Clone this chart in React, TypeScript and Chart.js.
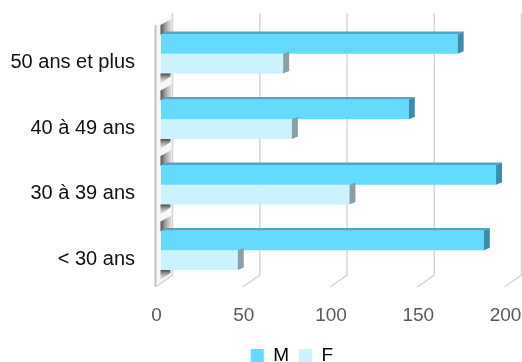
import React, { useEffect, useRef } from 'react';
import { Chart, registerables } from 'chart.js';

Chart.register(...registerables);

const categories = ['50 ans et plus', '40 à 49 ans', '30 à 39 ans', '< 30 ans'];
const seriesM = [170, 142, 192, 185];
const seriesF = [70, 75, 108, 44];
const xTicks = [0, 50, 100, 150, 200];
const seriesNames = ['M', 'F'];

const FONT = "'Liberation Sans', Arial, sans-serif";

const DX = 6;
const DY = -2.5;
const BACK = 11.5;
const FRONT = -5.5;
const LEGEND_SHIFT = 37;

const bar3d = {
  id: 'bar3d',
  afterLayout(chart: any) {
    const lg = chart.legend;
    if (lg) {
      lg.left += LEGEND_SHIFT;
      lg.right += LEGEND_SHIFT;
    }
  },
  beforeDatasetsDraw(chart: any) {
    const { ctx, chartArea, scales } = chart;
    const xs = scales.x;
    const backTop = chartArea.top - 8;
    const backBottom = chartArea.bottom - 8;
    const frontBottom = chartArea.bottom + 4;
    const frontTop = chartArea.top + 4;
    ctx.save();
    const x0f = xs.getPixelForValue(0) + FRONT;
    const x0b = xs.getPixelForValue(0) + BACK;
    ctx.fillStyle = '#f7f7f7';
    ctx.beginPath();
    ctx.moveTo(x0f, frontTop);
    ctx.lineTo(x0b, backTop);
    ctx.lineTo(x0b, backBottom);
    ctx.lineTo(x0f, frontBottom);
    ctx.closePath();
    ctx.fill();
    ctx.strokeStyle = '#c4c4c4';
    ctx.lineWidth = 2;
    ctx.beginPath();
    ctx.moveTo(x0f, frontTop);
    ctx.lineTo(x0f, frontBottom);
    ctx.stroke();
    ctx.strokeStyle = '#d6d6d6';
    ctx.lineWidth = 1.5;
    xTicks.forEach((v) => {
      const xb = xs.getPixelForValue(v) + BACK;
      const xf = xs.getPixelForValue(v) + FRONT;
      ctx.beginPath();
      ctx.moveTo(xb, backTop);
      ctx.lineTo(xb, backBottom);
      ctx.lineTo(xf, frontBottom);
      ctx.stroke();
    });
    const metaM = chart.getDatasetMeta(0);
    const metaF = chart.getDatasetMeta(1);
    metaM.data.forEach((el: any, i: number) => {
      const mTop = el.y - el.height / 2;
      const fEl = metaF.data[i];
      const fBottom = fEl.y + fEl.height / 2;
      const g1 = ctx.createLinearGradient(x0f + 4, 0, x0b, 0);
      g1.addColorStop(0, 'rgba(40,40,40,0.9)');
      g1.addColorStop(1, 'rgba(150,150,150,0.15)');
      ctx.fillStyle = g1;
      ctx.beginPath();
      ctx.moveTo(x0f + 5, mTop + 1);
      ctx.lineTo(x0f + 5, mTop - 9);
      ctx.lineTo(x0b - 1, mTop - 15);
      ctx.lineTo(x0b - 1, mTop - 2);
      ctx.closePath();
      ctx.fill();
      const g2 = ctx.createLinearGradient(0, fBottom, 0, fBottom + 10);
      g2.addColorStop(0, 'rgba(40,40,40,0.85)');
      g2.addColorStop(1, 'rgba(150,150,150,0.1)');
      ctx.fillStyle = g2;
      ctx.beginPath();
      ctx.moveTo(x0f + 5, fBottom);
      ctx.lineTo(x0f + 5, fBottom + 10);
      ctx.lineTo(x0b - 2, fBottom + 3);
      ctx.lineTo(x0b - 2, fBottom - 4);
      ctx.closePath();
      ctx.fill();
    });
    ctx.restore();
  },
  afterDatasetsDraw(chart: any) {
    const { ctx } = chart;
    ctx.save();
    const metaF = chart.getDatasetMeta(1);
    metaF.data.forEach((el: any) => {
      const top = el.y - el.height / 2;
      const bottom = el.y + el.height / 2;
      ctx.fillStyle = '#8aa0a9';
      ctx.beginPath();
      ctx.moveTo(el.x, top);
      ctx.lineTo(el.x + DX, top + DY);
      ctx.lineTo(el.x + DX, bottom + DY);
      ctx.lineTo(el.x, bottom);
      ctx.closePath();
      ctx.fill();
    });
    const metaM = chart.getDatasetMeta(0);
    metaM.data.forEach((el: any) => {
      const top = el.y - el.height / 2;
      const bottom = el.y + el.height / 2;
      ctx.fillStyle = '#4ea6c7';
      ctx.beginPath();
      ctx.moveTo(el.base, top);
      ctx.lineTo(el.x, top);
      ctx.lineTo(el.x + DX, top + DY);
      ctx.lineTo(el.base + DX, top + DY);
      ctx.closePath();
      ctx.fill();
      ctx.fillStyle = '#3d8cab';
      ctx.beginPath();
      ctx.moveTo(el.x, top);
      ctx.lineTo(el.x + DX, top + DY);
      ctx.lineTo(el.x + DX, bottom + DY);
      ctx.lineTo(el.x, bottom);
      ctx.closePath();
      ctx.fill();
    });
    ctx.restore();
  },
};

export default function App() {
  const ref = useRef<HTMLCanvasElement | null>(null);
  useEffect(() => {
    if (!ref.current) return;
    const chart = new Chart(ref.current, {
      type: 'bar',
      data: {
        labels: categories,
        datasets: [
          {
            label: seriesNames[0],
            data: seriesM,
            backgroundColor: '#66d9ff',
            borderWidth: 0,
            categoryPercentage: 0.6,
            barPercentage: 1,
          },
          {
            label: seriesNames[1],
            data: seriesF,
            backgroundColor: '#ccf2ff',
            borderWidth: 0,
            categoryPercentage: 0.6,
            barPercentage: 1,
          },
        ],
      },
      options: {
        indexAxis: 'y',
        responsive: false,
        animation: false,
        layout: { padding: { top: 21, right: 12, bottom: 0, left: 0 } },
        plugins: {
          legend: {
            position: 'bottom',
            labels: {
              boxWidth: 13,
              boxHeight: 13,
              padding: 10,
              color: '#000',
              font: { family: FONT, size: 19 },
            },
          },
          tooltip: { enabled: false },
        },
        scales: {
          x: {
            min: 0,
            max: 200,
            afterFit: (s: any) => { s.height = 53; s.paddingLeft = 0; s.paddingRight = 0; },
            afterBuildTicks: (s: any) => { s.ticks = xTicks.map((v) => ({ value: v })); },
            grid: { display: false, drawTicks: false },
            border: { display: false },
            ticks: {
              color: '#595959',
              padding: 21,
              labelOffset: -4.5,
              maxRotation: 0,
              font: { family: FONT, size: 19 },
            },
          },
          y: {
            afterFit: (s: any) => { s.width = 161; s.paddingTop = 0; s.paddingBottom = 0; },
            grid: { display: false, drawTicks: false },
            border: { display: false },
            ticks: {
              color: '#111111',
              padding: 26,
              labelOffset: 9,
              font: { family: FONT, size: 20 },
            },
          },
        },
      },
      plugins: [bar3d],
    });
    return () => chart.destroy();
  }, []);
  return (
    <div style={{ position: 'fixed', left: 0, top: 0, width: 522, height: 362, overflow: 'hidden', background: '#fff' }}>
      <canvas ref={ref} width={522} height={375} style={{ display: 'block', width: 522, height: 375 }} />
    </div>
  );
}
